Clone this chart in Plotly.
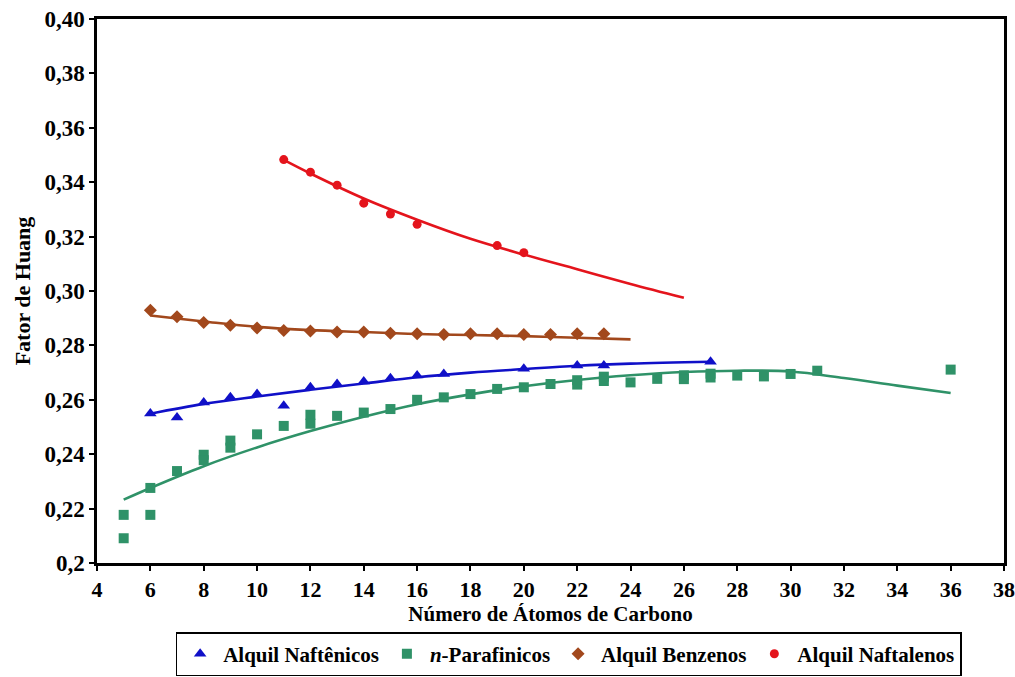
import plotly.graph_objects as go

# Fator de Huang versus número de átomos de carbono, por família de hidrocarbonetos

# Alquil Naftênicos
c_naftenicos = [6, 7, 8, 9, 10, 11, 12, 13, 14, 15, 16, 17, 20, 22, 23, 27]
h_naftenicos = [0.2550, 0.2535, 0.2590, 0.2609, 0.2621, 0.2578, 0.2646, 0.2658,
                0.2667, 0.2679, 0.2689, 0.2695, 0.2714, 0.2726, 0.2726, 0.2740]
tc_naftenicos = [6, 8, 10, 12, 14, 16, 18, 20, 22, 24, 27]
th_naftenicos = [0.2549, 0.2585, 0.2612, 0.2637, 0.2660, 0.2683, 0.2700, 0.2713,
                 0.2725, 0.2733, 0.2740]

# n-Parafínicos
c_parafinicos = [5, 5, 6, 6, 7, 8, 8, 9, 9, 10, 11, 12, 12, 13, 14, 15, 16, 17, 18,
                 19, 20, 21, 22, 22, 23, 23, 24, 25, 26, 26, 27, 27, 28, 29, 30, 31, 36]
h_parafinicos = [0.2177, 0.2091, 0.2177, 0.2276, 0.2338, 0.2398, 0.2378, 0.2450,
                 0.2424, 0.2473, 0.2504, 0.2545, 0.2512, 0.2541, 0.2553, 0.2566,
                 0.2600, 0.2609, 0.2621, 0.2640, 0.2646, 0.2658, 0.2672, 0.2656,
                 0.2685, 0.2669, 0.2664, 0.2677, 0.2690, 0.2676, 0.2696, 0.2682,
                 0.2689, 0.2686, 0.2695, 0.2707, 0.2711]
tc_parafinicos = [5, 6, 8, 10, 12, 14, 16, 18, 20, 22, 24, 26, 28, 30, 32, 34, 36]
th_parafinicos = [0.2233, 0.2276, 0.2356, 0.2425, 0.2485, 0.2538, 0.2584, 0.2620,
                  0.2650, 0.2673, 0.2690, 0.2702, 0.2707, 0.2704, 0.2680, 0.2652, 0.2625]

# Alquil Benzenos
c_benzenos = list(range(6, 24))
h_benzenos = [0.2929, 0.2905, 0.2884, 0.2874, 0.2864, 0.2855, 0.2853, 0.2849, 0.2849,
              0.2845, 0.2843, 0.2840, 0.2843, 0.2843, 0.2840, 0.2840, 0.2843, 0.2843]
tc_benzenos = [6, 8, 10, 12, 14, 16, 18, 20, 22, 24]
th_benzenos = [0.2910, 0.2888, 0.2868, 0.2856, 0.2849, 0.2842, 0.2838, 0.2834,
               0.2828, 0.2822]

# Alquil Naftalenos
c_naftalenos = [11, 12, 13, 14, 15, 16, 19, 20]
h_naftalenos = [0.3483, 0.3437, 0.3389, 0.3323, 0.3283, 0.3245, 0.3167, 0.3141]
tc_naftalenos = [11, 12, 14, 16, 18, 20, 22, 24, 26]
th_naftalenos = [0.3482, 0.3432, 0.3340, 0.3262, 0.3192, 0.3134, 0.3080, 0.3026, 0.2975]

x_ticks = list(range(4, 39, 2))
y_ticks = [0.20, 0.22, 0.24, 0.26, 0.28, 0.30, 0.32, 0.34, 0.36, 0.38, 0.40]
y_tick_text = ["0,2", "0,22", "0,24", "0,26", "0,28", "0,30", "0,32", "0,34",
               "0,36", "0,38", "0,40"]

AZUL = "#1010C8"
VERDE = "#2F9268"
MARROM = "#A2481C"
VERMELHO = "#E4141C"
FONTE = "Liberation Serif"

fig = go.Figure()

series = [
    ("Alquil Naftênicos", c_naftenicos, h_naftenicos, tc_naftenicos, th_naftenicos,
     AZUL, "triangle-up", 11),
    ("<i>n</i>-Parafinicos", c_parafinicos, h_parafinicos, tc_parafinicos, th_parafinicos,
     VERDE, "square", 10),
    ("Alquil Benzenos", c_benzenos, h_benzenos, tc_benzenos, th_benzenos,
     MARROM, "diamond", 10),
    ("Alquil Naftalenos", c_naftalenos, h_naftalenos, tc_naftalenos, th_naftalenos,
     VERMELHO, "circle", 9),
]

# linhas de tendência primeiro, pontos por cima
for nome, cx, hy, tcx, thy, cor, simb, tam in series:
    fig.add_trace(go.Scatter(
        x=tcx, y=thy, mode="lines", line=dict(color=cor, width=2.6, shape="spline"),
        showlegend=False, hoverinfo="skip"))

for nome, cx, hy, tcx, thy, cor, simb, tam in series:
    fig.add_trace(go.Scatter(
        x=cx, y=hy, mode="markers", name=f"<b>{nome}</b>",
        marker=dict(symbol=simb, size=tam, color=cor, line=dict(width=0))))

eixo = dict(showline=True, linecolor="black", linewidth=2.5, mirror=True,
            ticks="outside", ticklen=5, tickwidth=1.5, tickcolor="black",
            showgrid=False, zeroline=False)

fig.update_layout(
    width=1015, height=677,
    margin=dict(l=97, r=11, t=19, b=114, autoexpand=False),
    paper_bgcolor="white", plot_bgcolor="white",
    font=dict(family=FONTE, color="black"),
    xaxis=dict(range=[4, 38], tickvals=x_ticks,
               ticktext=[f"<b>{v}</b>" for v in x_ticks],
               tickfont=dict(family=FONTE, size=22, color="black"),
               title=dict(text="<b>Número de Átomos de Carbono</b>",
                          font=dict(family=FONTE, size=21, color="black"), standoff=2),
               **eixo),
    yaxis=dict(range=[0.20, 0.40], tickvals=y_ticks,
               ticktext=[f"<b>{t}</b>" for t in y_tick_text],
               tickfont=dict(family=FONTE, size=23, color="black"),
               title=dict(text="<b>Fator de Huang</b>",
                          font=dict(family=FONTE, size=22, color="black"), standoff=8),
               **eixo),
    legend=dict(orientation="h", x=0.52, xanchor="center", y=-0.127, yanchor="top",
                bordercolor="black", borderwidth=1.5, bgcolor="white",
                font=dict(family=FONTE, size=21, color="black"),
                itemwidth=36, tracegroupgap=0, itemsizing="trace"),
)

fig.write_html("out.html")
